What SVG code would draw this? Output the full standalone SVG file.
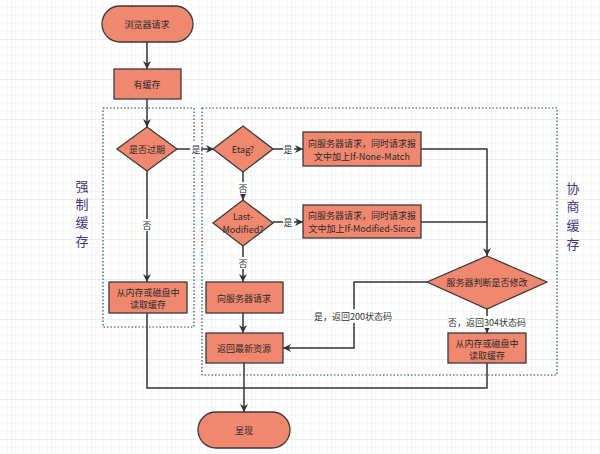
<svg xmlns="http://www.w3.org/2000/svg" width="600" height="454" viewBox="0 0 600 454">
<defs>
<pattern id="minor" width="8" height="8" patternUnits="userSpaceOnUse" x="4" y="0">
<path d="M8 0V8M0 8H8" fill="none" stroke="#f1f1f1" stroke-width="1"/>
</pattern>
<pattern id="major" width="40" height="40" patternUnits="userSpaceOnUse" x="12" y="0">
<rect width="40" height="40" fill="url(#minor)"/>
<path d="M40 0V40M0 40H40" fill="none" stroke="#e2e2e2" stroke-width="1"/>
</pattern>
<marker id="arr" viewBox="0 0 10 10" refX="10" refY="5" markerWidth="8" markerHeight="8" markerUnits="userSpaceOnUse" orient="auto">
<path d="M0 0L10 5L0 10L3 5Z" fill="#333"/>
</marker>
<style>
.n{fill:#F0876F;stroke:#3a3a3a;stroke-width:1.3}
.t{font-family:"Noto Sans CJK SC","Liberation Sans",sans-serif;font-size:9px;fill:#2a2a2a;text-anchor:middle;dominant-baseline:central}
.c{fill:none;stroke:#333;stroke-width:1.5}
.a{marker-end:url(#arr)}
.lb{font-family:"Noto Sans CJK SC","Liberation Sans",sans-serif;font-size:9px;fill:#333;text-anchor:middle;dominant-baseline:central}
.bg{fill:#fff}
.reg{fill:none;stroke:#2a4a5a;stroke-width:1.2;stroke-dasharray:1.5 2}
.side{font-family:"Noto Sans CJK SC",sans-serif;font-size:13px;fill:#4b3575;text-anchor:middle;dominant-baseline:central}
</style>
</defs>
<rect width="600" height="454" fill="#fff"/>
<rect width="600" height="454" fill="url(#major)"/>

<g id="regions">
<rect class="reg" x="103" y="108" width="91" height="219"/>
<rect class="reg" x="202" y="108" width="355" height="267"/>
</g>
<g id="side-labels">
<text class="side" x="82" y="185">强</text>
<text class="side" x="82" y="203">制</text>
<text class="side" x="82" y="221">缓</text>
<text class="side" x="82" y="240">存</text>
<text class="side" x="573" y="187">协</text>
<text class="side" x="573" y="205">商</text>
<text class="side" x="573" y="224">缓</text>
<text class="side" x="573" y="243">存</text>
</g>

<g id="connectors">
<path class="c a" d="M147 42V69"/>
<path class="c a" d="M147 99V127"/>
<path class="c a" d="M177 149H214"/>
<path class="c a" d="M273 149H303"/>
<path class="c a" d="M243 172V200"/>
<path class="c a" d="M273 222H303"/>
<path class="c a" d="M421 149H487V256"/>
<path class="c" d="M421 222H487"/>
<path class="c a" d="M147 171V282"/>
<path class="c a" d="M243 246V282"/>
<path class="c a" d="M243 313V333"/>
<path class="c a" d="M427 282H354V348H283"/>
<path class="c a" d="M487 309V333"/>
<path class="c" d="M487 363V388H244"/>
<path class="c" d="M147 313V388H244"/>
<path class="c a" d="M244 363V412"/>
<g id="edge-labels">
<rect class="bg" x="190" y="143" width="11" height="12"/>
<text class="lb" x="196" y="149">是</text>
<rect class="bg" x="283" y="143" width="11" height="12"/>
<text class="lb" x="288" y="149">是</text>
<rect class="bg" x="237" y="182" width="12" height="12"/>
<text class="lb" x="243" y="188">否</text>
<rect class="bg" x="283" y="216" width="11" height="12"/>
<text class="lb" x="288" y="222">是</text>
<rect class="bg" x="141" y="219" width="12" height="12"/>
<text class="lb" x="147" y="225">否</text>
<rect class="bg" x="237" y="257" width="12" height="12"/>
<text class="lb" x="243" y="263">否</text>
<rect class="bg" x="315" y="309" width="77" height="14"/>
<text class="lb" x="353" y="316">是，返回200状态码</text>
<rect class="bg" x="448" y="316" width="78" height="12"/>
<text class="lb" x="487" y="322">否，返回304状态码</text>
</g>
</g>

<g id="start"><rect class="n" x="102" y="6" width="91" height="36" rx="18"/><text class="t" x="147" y="24">浏览器请求</text></g>
<g id="has-cache"><rect class="n" x="114" y="69" width="67" height="30"/><text class="t" x="147" y="84">有缓存</text></g>
<g id="expired"><path class="n" d="M147 127L177 149L147 171L117 149Z"/><text class="t" x="147" y="149">是否过期</text></g>
<g id="etag"><path class="n" d="M243 126L273 149L243 172L213 149Z"/><text class="t" x="243" y="149">Etag?</text></g>
<g id="req-none-match"><rect class="n" x="303" y="132" width="118" height="34"/><text class="t" x="362" y="143">向服务器请求，同时请求报</text><text class="t" x="362" y="156">文中加上If-None-Match</text></g>
<g id="last-modified"><path class="n" d="M243 200L273 223L243 246L213 223Z"/><text class="t" x="243" y="216">Last-</text><text class="t" x="243" y="229">Modified?</text></g>
<g id="req-modified-since"><rect class="n" x="303" y="205" width="118" height="33"/><text class="t" x="362" y="215">向服务器请求，同时请求报</text><text class="t" x="362" y="228">文中加上If-Modified-Since</text></g>
<g id="server-check"><path class="n" d="M487 256L547 282L487 309L427 282Z"/><text class="t" x="487" y="282">服务器判断是否修改</text></g>
<g id="read-cache-left"><rect class="n" x="109" y="282" width="78" height="31"/><text class="t" x="148" y="292">从内存或磁盘中</text><text class="t" x="148" y="304">读取缓存</text></g>
<g id="request-server"><rect class="n" x="206" y="282" width="77" height="31"/><text class="t" x="244" y="298">向服务器请求</text></g>
<g id="return-new"><rect class="n" x="206" y="333" width="77" height="30"/><text class="t" x="244" y="348">返回最新资源</text></g>
<g id="read-cache-right"><rect class="n" x="448" y="333" width="78" height="30"/><text class="t" x="487" y="343">从内存或磁盘中</text><text class="t" x="487" y="355">读取缓存</text></g>
<g id="render"><rect class="n" x="198" y="412" width="92" height="36" rx="18"/><text class="t" x="244" y="430">呈现</text></g>
</svg>
